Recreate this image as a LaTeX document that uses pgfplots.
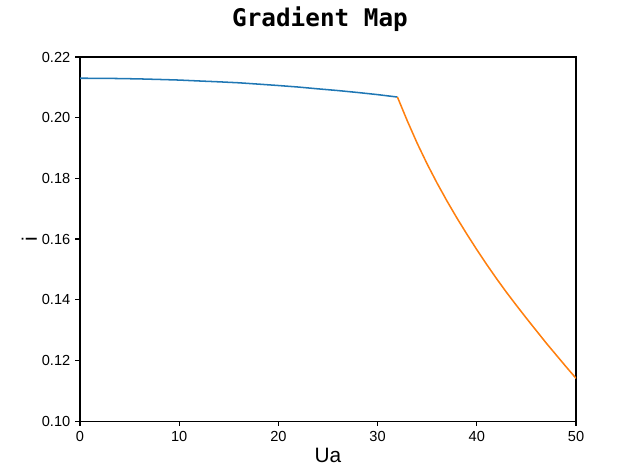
\documentclass[border=0pt]{standalone}
\usepackage{fontspec}
\setmainfont{Liberation Sans}
\newfontfamily\titlefont{DejaVu Sans Mono}
\usepackage{pgfplots}
\pgfplotsset{compat=1.18}

\definecolor{tabblue}{HTML}{1F77B4}
\definecolor{taborange}{HTML}{FF7F0E}

\begin{document}
\begin{tikzpicture}
\begin{axis}[
    scale only axis,
    width=357.1pt, height=262.1pt,
    xmin=0, xmax=50, ymin=0.10, ymax=0.22,
    xtick={0,10,...,50},
    ytick={0.10,0.12,...,0.22},
    tick align=outside, tick pos=left,
    major tick length=3.5pt,
    every tick/.style={black, line width=0.8pt},
    axis line style={line width=0.8pt},
    tick label style={font=\fontsize{10.5}{12}\selectfont},
    /pgf/number format/assume math mode=true,
    yticklabel style={/pgf/number format/.cd, fixed, fixed zerofill, precision=2},
    xticklabel style={/pgf/number format/.cd, fixed},
    title={\titlefont\bfseries\fontsize{17.5}{20}\selectfont Gradient Map},
    title style={at={(axis description cs:0.4839,1.061)}, anchor=base},
    xlabel={\fontsize{15}{17}\selectfont Ua},
    x label style={at={(axis description cs:0.5,-0.1152)}, anchor=base},
    ylabel={\fontsize{15}{17}\selectfont i},
    y label style={at={(axis description cs:-0.0868,0.5)}, anchor=base, rotate=0},
]
\addplot[tabblue, line width=1.1pt] coordinates {
    (0,0.2130) (2,0.21298) (4,0.2129) (6,0.21278) (8,0.2126) (10,0.21240)
    (12,0.2121) (14,0.21182) (16,0.2115) (18,0.21106) (20,0.2106)
    (22,0.21010) (24,0.2095) (26,0.20894) (28,0.2083) (30,0.20760) (32,0.2068)
};
\addplot[taborange, line width=1.1pt] coordinates {
    (32,0.2068) (33,0.1989) (34,0.1915) (35,0.1847) (36,0.1784) (37,0.1725)
    (38,0.1669) (39,0.1616) (40,0.1565) (41,0.1516) (42,0.1469) (43,0.1424)
    (44,0.1381) (45,0.1339) (46,0.1298) (47,0.1257) (48,0.1218) (49,0.1179)
    (50,0.1141)
};
\coordinate (ll) at (rel axis cs:0,0);
\coordinate (ur) at (rel axis cs:1,1);
\end{axis}
\path (ll) ++(-57.6pt,-37.44pt) coordinate (a);
\path (ur) ++(46.08pt,41.04pt) coordinate (b);
\pgfresetboundingbox
\path[use as bounding box] (a) rectangle (b);
\end{tikzpicture}
\end{document}
